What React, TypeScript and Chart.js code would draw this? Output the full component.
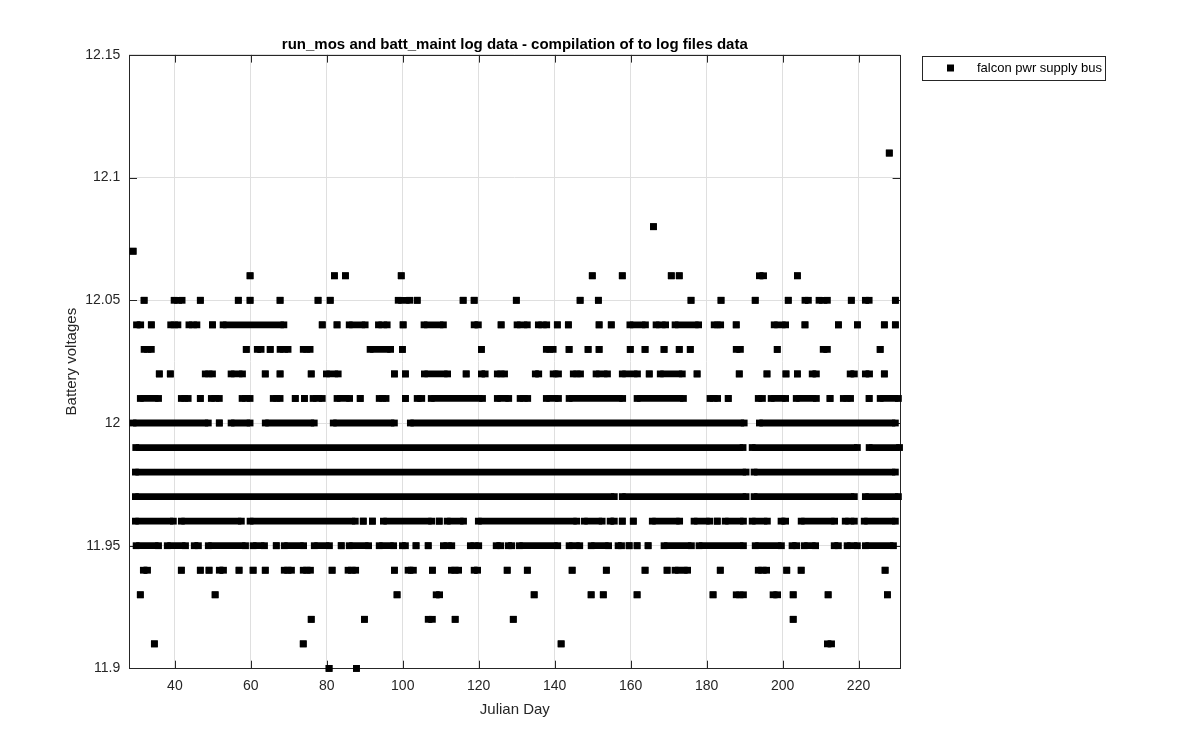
import React, { useEffect, useRef } from "react";
import { Chart, registerables } from "chart.js";

Chart.register(...registerables);

// ---- axis ticks ----
const xTicks = [40, 60, 80, 100, 120, 140, 160, 180, 200, 220];
const yTicks = [11.9, 11.95, 12, 12.05, 12.1, 12.15];
const yTickLabels = ["11.9", "11.95", "12", "12.05", "12.1", "12.15"];

// ---- data: runs of consecutive readings [firstDay, lastDay] per voltage level ----
const runs1211 = [[228.1]];
const runs1208 = [[166.0]];
const runs1207 = [[29.0]];
const runs1206 = [[59.8], [82.0], [84.9], [99.6], [149.9], [157.8], [170.7], [172.8], [193.9, 195.0], [203.9]];
const runs1205 = [[31.9], [39.8, 41.9], [46.7], [56.7], [59.8], [67.7], [77.7], [80.9], [98.8, 101.8], [103.8], [115.9], [118.8], [129.9], [146.7], [151.5], [175.9], [183.8], [192.8], [201.5], [205.9, 206.8], [209.6, 211.8], [218.1], [221.8, 222.8], [229.7]];
const runs1204 = [[29.9, 31.0], [33.8], [38.9, 40.8], [43.7, 45.8], [49.9], [52.7, 68.7], [78.8], [82.7], [85.9, 90.1], [93.6, 95.9], [100.1], [105.6, 110.7], [118.8, 119.9], [125.9], [130.1, 132.8], [135.7, 137.9], [140.7], [143.6], [151.7], [154.9], [159.8, 163.9], [166.7, 169.2], [171.7, 177.9], [182.0, 183.7], [187.8], [197.8, 200.8], [205.9], [214.7], [219.7], [226.8], [229.7]];
const runs1203 = [[31.9, 33.8], [58.8], [61.7, 62.7], [65.1], [67.7, 69.8], [73.8, 75.6], [91.4, 96.8], [99.9], [120.7], [137.8, 139.6], [143.8], [148.8], [151.7], [159.9], [163.8], [168.8], [172.8], [175.7], [187.8, 188.9], [198.6], [210.7, 211.8], [225.7]];
const runs1202 = [[35.9], [38.8], [48.0, 49.9], [54.8, 57.8], [63.8], [67.7], [75.9], [79.9, 83.0], [97.8], [100.7], [105.7, 111.8], [116.7], [120.7, 121.7], [124.9, 126.8], [134.9, 135.8], [139.6, 141.0], [144.9, 146.8], [150.9, 153.9], [157.8, 161.8], [164.9], [167.8, 173.6], [177.5], [188.6], [195.9], [200.9], [203.9], [207.8, 208.9], [217.8, 218.9], [221.8, 222.9], [226.8]];
const runs1201 = [[30.9, 35.7], [41.7, 43.5], [46.7], [49.6, 51.7], [57.7, 59.8], [65.9, 67.7], [71.7], [74.1], [76.4, 78.8], [82.7, 86.0], [88.8], [93.8, 95.6], [100.7], [103.8, 105.0], [107.5, 121.0], [124.9, 127.9], [130.9, 132.9], [137.8, 141.0], [143.8, 157.9], [161.7, 173.9], [180.9, 182.9], [185.7], [193.6, 194.7], [197.0, 200.8], [203.6, 208.9], [212.5], [216.0, 217.9], [222.8], [225.7, 230.5]];
const runs1200 = [[29.0, 48.8], [51.7], [54.8, 59.8], [63.8, 76.7], [81.7, 97.8], [102.0, 189.9], [193.9, 229.7]];
const runs1199 = [[29.7, 189.6], [192.0, 219.7], [222.8, 230.8]];
const runs1198 = [[29.6, 190.4], [192.5, 229.7]];
const runs1197 = [[29.6, 155.7], [157.8, 190.4], [192.5, 218.9], [221.8, 230.5]];
const runs1196 = [[29.6, 39.6], [41.7, 57.5], [59.8, 87.5], [89.6], [92.0], [94.9, 107.6], [109.6], [111.7, 116.0], [119.9, 145.8], [147.8, 152.5], [154.6, 155.7], [157.8], [160.7], [165.7, 172.9], [176.7, 180.8], [182.8], [184.9, 189.7], [192.0, 196.0], [199.6, 200.8], [204.9, 213.7], [216.5, 218.9], [221.5, 229.7]];
const runs1195 = [[29.8, 35.7], [38.0, 42.8], [45.1, 46.2], [48.8, 58.6], [60.6, 63.6], [66.7], [68.8, 73.9], [76.7, 80.7], [83.8], [85.9, 91.0], [93.8, 97.6], [99.9, 100.7], [103.5], [106.7], [110.7, 112.9], [117.8, 120.0], [124.6, 125.8], [127.8, 128.7], [130.7, 140.8], [143.8, 146.6], [149.6, 154.2], [156.7, 157.6], [159.6], [161.7], [164.6], [168.8, 176.0], [178.0, 189.7], [192.8, 199.7], [202.5, 203.7], [205.7, 208.7], [213.6, 214.7], [217.0, 219.7], [221.8, 229.2]];
const runs1194 = [[31.7, 32.8], [41.7], [46.7], [49.0], [51.7, 52.8], [56.9], [60.6], [63.8], [68.8, 70.7], [73.8, 75.7], [81.4], [85.6, 87.6], [97.8], [101.4, 102.8], [107.8], [112.8, 114.7], [118.8, 119.7], [127.5], [132.8], [144.6], [153.6], [163.8], [169.6], [171.7, 175.0], [183.6], [193.6, 195.8], [201.1], [204.9], [227.0]];
const runs1193 = [[30.9], [50.6], [98.5], [108.8, 109.7], [134.6], [149.6], [152.8], [161.7], [181.7], [187.8, 189.7], [197.5, 198.7], [202.8], [212.0], [227.6]];
const runs1192 = [[75.9], [89.9], [106.7, 107.8], [113.8], [129.1], [202.8]];
const runs1191 = [[34.6], [73.8], [141.7], [211.8, 212.9]];
const runs1190 = [[80.6], [87.8]];

const levels = [12.11, 12.08, 12.07, 12.06, 12.05, 12.04, 12.03, 12.02, 12.01, 12.0, 11.99, 11.98, 11.97, 11.96, 11.95, 11.94, 11.93, 11.92, 11.91, 11.9];
const levelRuns = [runs1211, runs1208, runs1207, runs1206, runs1205, runs1204, runs1203, runs1202, runs1201, runs1200, runs1199, runs1198, runs1197, runs1196, runs1195, runs1194, runs1193, runs1192, runs1191, runs1190];

const seriesName = "falcon pwr supply bus";
const titleText = "run_mos and batt_maint log data - compilation of to log files data";
const xLabel = "Julian Day";
const yLabel = "Battery voltages";

const FONT = '"Liberation Sans", Arial, Helvetica, sans-serif';
const AXIS_COLOR = "#262626";

function buildPoints() {
  const pts: { x: number; y: number | null }[] = [];
  levels.forEach((v, i) => {
    levelRuns[i].forEach((r) => {
      const a = r[0];
      const b = r.length > 1 ? r[1] : r[0];
      pts.push({ x: a, y: v }, { x: b, y: v }, { x: b, y: null });
    });
  });
  return pts;
}

const matlabAxes = {
  id: "matlabAxes",
  beforeDatasetsDraw(chart: any) {
    const { ctx, chartArea, scales } = chart;
    const { left, right, top, bottom } = chartArea;
    const tl = 7.7;
    ctx.save();
    ctx.strokeStyle = AXIS_COLOR;
    ctx.lineWidth = 1;
    ctx.beginPath();
    xTicks.forEach((v) => {
      const px = Math.round(scales.x.getPixelForValue(v)) + 0.5;
      ctx.moveTo(px, bottom);
      ctx.lineTo(px, bottom - tl);
      ctx.moveTo(px, top);
      ctx.lineTo(px, top + tl);
    });
    yTicks.forEach((v) => {
      const py = Math.round(scales.y.getPixelForValue(v)) + 0.5;
      ctx.moveTo(left, py);
      ctx.lineTo(left + tl, py);
      ctx.moveTo(right, py);
      ctx.lineTo(right - tl, py);
    });
    ctx.stroke();
    ctx.strokeRect(Math.round(left) + 0.5, Math.round(top) + 0.5, Math.round(right) - Math.round(left), Math.round(bottom) - Math.round(top));
    ctx.restore();
  },
  afterDraw(chart: any) {
    const { ctx, chartArea } = chart;
    const { left, right, top, bottom } = chartArea;
    const cx = (left + right) / 2;
    ctx.save();
    ctx.fillStyle = "#000";
    // title
    ctx.font = `bold 15px ${FONT}`;
    ctx.textAlign = "center";
    ctx.textBaseline = "middle";
    ctx.fillText(titleText, cx, 45);
    // axis labels
    ctx.fillStyle = AXIS_COLOR;
    ctx.font = `15px ${FONT}`;
    ctx.fillText(xLabel, cx, 710);
    ctx.save();
    ctx.translate(72, (top + bottom) / 2);
    ctx.rotate(-Math.PI / 2);
    ctx.fillText(yLabel, 0, 0);
    ctx.restore();
    // legend
    const lx = 922, ly = 56, lw = 183, lh = 24;
    ctx.fillStyle = "#fff";
    ctx.fillRect(lx, ly, lw, lh);
    ctx.strokeStyle = AXIS_COLOR;
    ctx.lineWidth = 1;
    ctx.strokeRect(lx + 0.5, ly + 0.5, lw, lh);
    ctx.fillStyle = "#000";
    ctx.fillRect(lx + 25, ly + 8.5, 7, 7);
    ctx.font = `13px ${FONT}`;
    ctx.textAlign = "left";
    ctx.fillText(seriesName, lx + 55, ly + lh / 2 + 0.5);
    ctx.restore();
  },
};

export default function App() {
  const ref = useRef<HTMLCanvasElement | null>(null);
  useEffect(() => {
    document.body.style.margin = "0";
    document.body.style.overflow = "hidden";
    const canvas = ref.current;
    if (!canvas) return;
    const chart = new Chart(canvas, {
      type: "scatter",
      data: {
        datasets: [
          {
            label: seriesName,
            data: buildPoints() as any,
            showLine: true,
            spanGaps: false,
            borderColor: "#000",
            borderWidth: 6.8,
            borderCapStyle: "butt",
            pointStyle: "rect",
            pointRadius: 4.81,
            pointBorderWidth: 0,
            pointBackgroundColor: "#000",
            pointHoverRadius: 4.81,
            clip: false as any,
          } as any,
        ],
      },
      options: {
        responsive: false,
        animation: false,
        devicePixelRatio: 1,
        events: [],
        layout: { padding: { left: 0, right: 299.7, top: 54.9, bottom: 0 } },
        plugins: {
          legend: { display: false },
          title: { display: false },
          tooltip: { enabled: false },
        },
        scales: {
          x: {
            type: "linear",
            min: 28,
            max: 231,
            afterFit: (s: any) => {
              s.height = 81.6;
            },
            afterBuildTicks: (s: any) => {
              s.ticks = xTicks.map((v) => ({ value: v }));
            },
            grid: { color: "#dfdfdf", drawTicks: false, lineWidth: 1 },
            border: { display: false },
            ticks: {
              color: AXIS_COLOR,
              font: { family: FONT, size: 14 },
              padding: 9,
              maxRotation: 0,
              callback: (v: any) => String(v),
            },
          },
          y: {
            type: "linear",
            min: 11.9,
            max: 12.15,
            afterFit: (s: any) => {
              s.width = 129.3;
            },
            afterBuildTicks: (s: any) => {
              s.ticks = yTicks.map((v) => ({ value: v }));
            },
            grid: { color: "#dfdfdf", drawTicks: false, lineWidth: 1 },
            border: { display: false },
            ticks: {
              color: AXIS_COLOR,
              font: { family: FONT, size: 14 },
              padding: 9,
              callback: (v: any) => {
                const i = yTicks.findIndex((t) => Math.abs(t - v) < 1e-6);
                return i >= 0 ? yTickLabels[i] : "";
              },
            },
          },
        },
      },
      plugins: [matlabAxes],
    });
    return () => chart.destroy();
  }, []);
  return (
    <div style={{ width: 1200, height: 750, background: "#fff" }}>
      <canvas ref={ref} width={1200} height={750} style={{ display: "block", width: 1200, height: 750 }} />
    </div>
  );
}
